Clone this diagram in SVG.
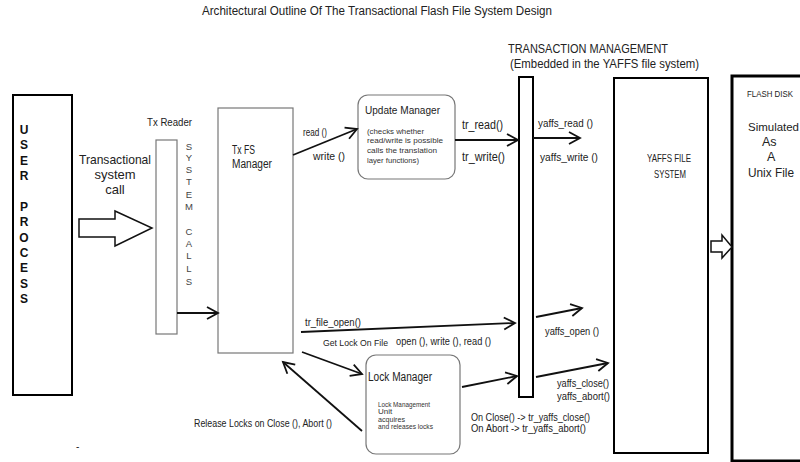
<svg xmlns="http://www.w3.org/2000/svg" width="800" height="462" viewBox="0 0 800 462">
<style>
text{font-family:"Liberation Sans","Open Sans",Arial,sans-serif;fill:#222}
.b{stroke:#000;fill:#fff}
.g{stroke:#777;stroke-width:1.2;fill:#fff}
.c{stroke:#111;stroke-width:1.8;fill:none;marker-end:url(#ah)}
.sm{font-size:8px;fill:#333}
.lt{font-size:9.5px;fill:#444;text-anchor:middle}
.up{font-size:12px;font-weight:bold;text-anchor:middle;fill:#111}
</style>
<defs>
<marker id="ah" markerUnits="userSpaceOnUse" markerWidth="16" markerHeight="16" refX="13" refY="8" orient="auto">
<path d="M2,2 L13,8 L2,14" fill="none" stroke="#111" stroke-width="1.8"/>
</marker>
</defs>
<rect width="800" height="462" fill="#fff"/>
<text x="202" y="15" font-size="12.5" textLength="350" lengthAdjust="spacingAndGlyphs">Architectural Outline Of The Transactional Flash File System Design</text>

<g id="user-process">
<rect class="b" x="13" y="95" width="59" height="300" stroke-width="2"/>
<text class="up" x="24" y="134">U</text><text class="up" x="24" y="149">S</text><text class="up" x="24" y="165">E</text><text class="up" x="24" y="180">R</text>
<text class="up" x="24" y="211">P</text><text class="up" x="24" y="226">R</text><text class="up" x="24" y="242">O</text><text class="up" x="24" y="257">C</text><text class="up" x="24" y="272">E</text><text class="up" x="24" y="288">S</text><text class="up" x="24" y="303">S</text>
</g>

<g id="transactional-call">
<text x="115" y="164" font-size="13" text-anchor="middle" textLength="72" lengthAdjust="spacingAndGlyphs">Transactional</text>
<text x="115" y="179" font-size="13" text-anchor="middle">system</text>
<text x="115" y="194" font-size="13" text-anchor="middle">call</text>
<polygon points="79,219 115,219 115,211 152,228 115,246 115,237 79,237" fill="#fff" stroke="#111" stroke-width="1.5"/>
</g>

<g id="tx-reader">
<text x="147" y="126" font-size="11.5" textLength="45" lengthAdjust="spacingAndGlyphs">Tx Reader</text>
<rect class="g" x="156" y="140" width="21" height="194"/>
<text class="lt" x="189" y="150">S</text><text class="lt" x="189" y="160.5">Y</text><text class="lt" x="189" y="172.5">S</text><text class="lt" x="189" y="185">T</text><text class="lt" x="189" y="198">E</text><text class="lt" x="189" y="210">M</text>
<text class="lt" x="189" y="235">C</text><text class="lt" x="189" y="247">A</text><text class="lt" x="189" y="259">L</text><text class="lt" x="189" y="271.5">L</text><text class="lt" x="189" y="285">S</text>
</g>

<g id="tx-fs-manager">
<rect class="g" x="218" y="108" width="75" height="245"/>
<text x="232" y="154" font-size="12.5" textLength="23" lengthAdjust="spacingAndGlyphs">Tx FS</text>
<text x="232" y="168" font-size="12.5" textLength="40" lengthAdjust="spacingAndGlyphs">Manager</text>
</g>

<g id="update-manager">
<rect class="g" x="358" y="95" width="97" height="84" rx="10"/>
<text x="365" y="114" font-size="11.5" textLength="75" lengthAdjust="spacingAndGlyphs">Update Manager</text>
<text class="sm" x="367" y="133.5" textLength="57" lengthAdjust="spacingAndGlyphs">(checks whether</text>
<text class="sm" x="367" y="143" textLength="76" lengthAdjust="spacingAndGlyphs">read/write is possible</text>
<text class="sm" x="367" y="152.5" textLength="70" lengthAdjust="spacingAndGlyphs">calls the translation</text>
<text class="sm" x="367" y="162.5" textLength="52" lengthAdjust="spacingAndGlyphs">layer functions)</text>
</g>

<g id="transaction-management">
<text x="508" y="53" font-size="12.5" textLength="160" lengthAdjust="spacingAndGlyphs">TRANSACTION MANAGEMENT</text>
<text x="510" y="68" font-size="12.5" textLength="189" lengthAdjust="spacingAndGlyphs">(Embedded in the YAFFS file system)</text>
<rect class="b" x="519" y="77" width="14" height="320" stroke-width="2"/>
</g>

<g id="yaffs-file-system">
<rect class="b" x="614" y="78" width="94" height="375" stroke-width="2"/>
<text x="647" y="162" font-size="10.5" textLength="44" lengthAdjust="spacingAndGlyphs">YAFFS FILE</text>
<text x="654" y="178" font-size="10.5" textLength="32" lengthAdjust="spacingAndGlyphs">SYSTEM</text>
</g>

<g id="flash-disk">
<rect class="b" x="732" y="76" width="80" height="385" stroke-width="3"/>
<text x="747" y="96.5" font-size="9" textLength="46" lengthAdjust="spacingAndGlyphs">FLASH DISK</text>
<text x="748" y="131" font-size="11.5" textLength="51" lengthAdjust="spacingAndGlyphs">Simulated</text>
<text x="762" y="146" font-size="12.5">As</text>
<text x="767" y="161" font-size="12.5">A</text>
<text x="748" y="177" font-size="12.5" textLength="46" lengthAdjust="spacingAndGlyphs">Unix File</text>
</g>

<g id="lock-manager">
<rect class="g" x="366" y="355" width="94" height="99" rx="10"/>
<text x="368" y="381" font-size="12.5" textLength="64" lengthAdjust="spacingAndGlyphs">Lock Manager</text>
<text class="sm" x="378" y="406.5" font-size="7.5" textLength="52" lengthAdjust="spacingAndGlyphs">Lock Management</text>
<text class="sm" x="378" y="414" font-size="7.5">Unit</text>
<text class="sm" x="378" y="421.5" font-size="7.5" textLength="27" lengthAdjust="spacingAndGlyphs">acquires</text>
<text class="sm" x="378" y="429" font-size="7.5" textLength="55" lengthAdjust="spacingAndGlyphs">and releases locks</text>
</g>

<g id="connectors">
<line class="c" x1="177" y1="313" x2="218" y2="313"/>
<line class="c" x1="293" y1="155" x2="357" y2="129"/>
<line class="c" x1="455" y1="140" x2="518" y2="140"/>
<line class="c" x1="533" y1="138" x2="580" y2="138"/>
<line class="c" x1="301" y1="332" x2="515" y2="323"/>
<line class="c" x1="302" y1="352" x2="362" y2="374"/>
<line class="c" x1="362" y1="431" x2="283" y2="362"/>
<line class="c" x1="462" y1="387" x2="517" y2="376"/>
<line class="c" x1="536" y1="317" x2="582" y2="308"/>
<line class="c" x1="536" y1="377" x2="608" y2="363"/>
<polygon points="711,241 722,241 722,235 732,247 722,258 722,252 711,252" fill="#fff" stroke="#111" stroke-width="1.5"/>
</g>

<g id="labels">
<text x="303" y="136" font-size="11.5" textLength="24" lengthAdjust="spacingAndGlyphs">read ()</text>
<text x="313" y="160" font-size="11.5" textLength="32" lengthAdjust="spacingAndGlyphs">write ()</text>
<text x="462" y="129" font-size="12" textLength="41" lengthAdjust="spacingAndGlyphs">tr_read()</text>
<text x="462" y="161" font-size="12" textLength="43" lengthAdjust="spacingAndGlyphs">tr_write()</text>
<text x="538" y="127" font-size="11.5" textLength="55" lengthAdjust="spacingAndGlyphs">yaffs_read ()</text>
<text x="540" y="161" font-size="11.5" textLength="58" lengthAdjust="spacingAndGlyphs">yaffs_write ()</text>
<text x="305" y="326" font-size="11" textLength="56" lengthAdjust="spacingAndGlyphs">tr_file_open()</text>
<text x="323" y="346" font-size="9.5" textLength="65" lengthAdjust="spacingAndGlyphs">Get Lock On File</text>
<text x="396" y="345" font-size="11" textLength="95" lengthAdjust="spacingAndGlyphs">open (), write (), read ()</text>
<text x="545" y="335" font-size="11" textLength="54" lengthAdjust="spacingAndGlyphs">yaffs_open ()</text>
<text x="557" y="387" font-size="11" textLength="52" lengthAdjust="spacingAndGlyphs">yaffs_close()</text>
<text x="557" y="400" font-size="11" textLength="53" lengthAdjust="spacingAndGlyphs">yaffs_abort()</text>
<text x="471" y="421" font-size="11" textLength="119" lengthAdjust="spacingAndGlyphs">On Close() -&gt; tr_yaffs_close()</text>
<text x="471" y="432" font-size="11" textLength="115" lengthAdjust="spacingAndGlyphs">On Abort -&gt; tr_yaffs_abort()</text>
<text x="194" y="427" font-size="11" textLength="138" lengthAdjust="spacingAndGlyphs">Release Locks on Close (), Abort ()</text>
<text x="76" y="450" font-size="10">-</text>
</g>
</svg>
